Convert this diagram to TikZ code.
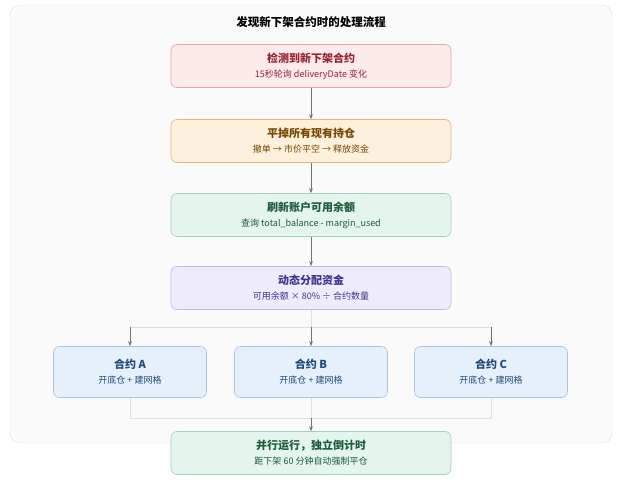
\documentclass[tikz,border=0pt]{standalone}
\usepackage{fontspec}
\setmainfont{Noto Sans CJK SC}
\usetikzlibrary{positioning,arrows.meta}
\definecolor{redfill}{HTML}{FDEBEC}\definecolor{redline}{HTML}{E9A3A8}\definecolor{redtext}{HTML}{9B2230}
\definecolor{orgfill}{HTML}{FDF0DC}\definecolor{orgline}{HTML}{E2B877}\definecolor{orgtext}{HTML}{7A4600}
\definecolor{grnfill}{HTML}{E3F5EC}\definecolor{grnline}{HTML}{A3D2B8}\definecolor{grntext}{HTML}{1D5C3C}
\definecolor{purfill}{HTML}{EEECFC}\definecolor{purline}{HTML}{C0B8EE}\definecolor{purtext}{HTML}{3D348E}
\definecolor{blufill}{HTML}{E6F0FB}\definecolor{bluline}{HTML}{A9C4E4}\definecolor{blutext}{HTML}{1F4A80}
\begin{document}
\begin{tikzpicture}[x=1pt,y=-1pt,
	stage/.style={
		rectangle, rounded corners=6pt, semithick,
		minimum width=280pt, minimum height=43pt, align=center, font=\fontsize{11}{15}\selectfont
	},
	leaf/.style={stage, minimum width=153pt, minimum height=51pt},
	line/.style={draw, thick, color=gray!90!black, -{Stealth[length=5pt]}},
	rail/.style={draw, thick, color=black!12},
	]
	\useasboundingbox (0,0) rectangle (623,482);
	\draw[rounded corners=10pt, fill=black!2, draw=black!13] (10,5) rectangle (612,443);
	\node[font=\bfseries\fontsize{11.5}{14}\selectfont] (title) at (311,22) {发现新下架合约时的处理流程};

	\node [stage, fill=redfill, draw=redline, text=redtext] (detect) at (311,66)
		{\textbf{检测到新下架合约}\\{\fontsize{9}{11}\selectfont 15秒轮询 deliveryDate 变化}};
	\node [stage, fill=orgfill, draw=orgline, text=orgtext] (close) at (311,141)
		{\textbf{平掉所有现有持仓}\\{\fontsize{9}{11}\selectfont 撤单 → 市价平空 → 释放资金}};
	\node [stage, fill=grnfill, draw=grnline, text=grntext] (refresh) at (311,215)
		{\textbf{刷新账户可用余额}\\{\fontsize{9}{11}\selectfont 查询 total\_balance - margin\_used}};
	\node [stage, fill=purfill, draw=purline, text=purtext] (alloc) at (311,288)
		{\textbf{动态分配资金}\\{\fontsize{9}{11}\selectfont 可用余额 × 80\% ÷ 合约数量}};

	\node [leaf, fill=blufill, draw=bluline, text=blutext] (ca) at (130,372)
		{\textbf{合约 A}\\{\fontsize{9}{11}\selectfont 开底仓 + 建网格}};
	\node [leaf, fill=blufill, draw=bluline, text=blutext] (cb) at (311,372)
		{\textbf{合约 B}\\{\fontsize{9}{11}\selectfont 开底仓 + 建网格}};
	\node [leaf, fill=blufill, draw=bluline, text=blutext] (cc) at (491,372)
		{\textbf{合约 C}\\{\fontsize{9}{11}\selectfont 开底仓 + 建网格}};

	\node [stage, fill=grnfill, draw=grnline, text=grntext] (run) at (311,453)
		{\textbf{并行运行，独立倒计时}\\{\fontsize{9}{11}\selectfont 距下架 60 分钟自动强制平仓}};

	\coordinate (split) at (311,327);
	\coordinate (join) at (311,418);

	\path [line] (detect) -- (close);
	\path [line] (close) -- (refresh);
	\path [line] (refresh) -- (alloc);
	\path [rail] (alloc) -- (split);
	\path [rail] (ca.north |- split) -- (cc.north |- split);
	\path [line] (ca.north |- split) -- (ca);
	\path [line] (split) -- (cb);
	\path [line] (cc.north |- split) -- (cc);
	\path [rail] (ca) -- (ca.south |- join) -- (cc.south |- join) -- (cc);
	\path [rail] (cb) -- (join);
	\path [line] (join) -- (run);
\end{tikzpicture}
\end{document}
